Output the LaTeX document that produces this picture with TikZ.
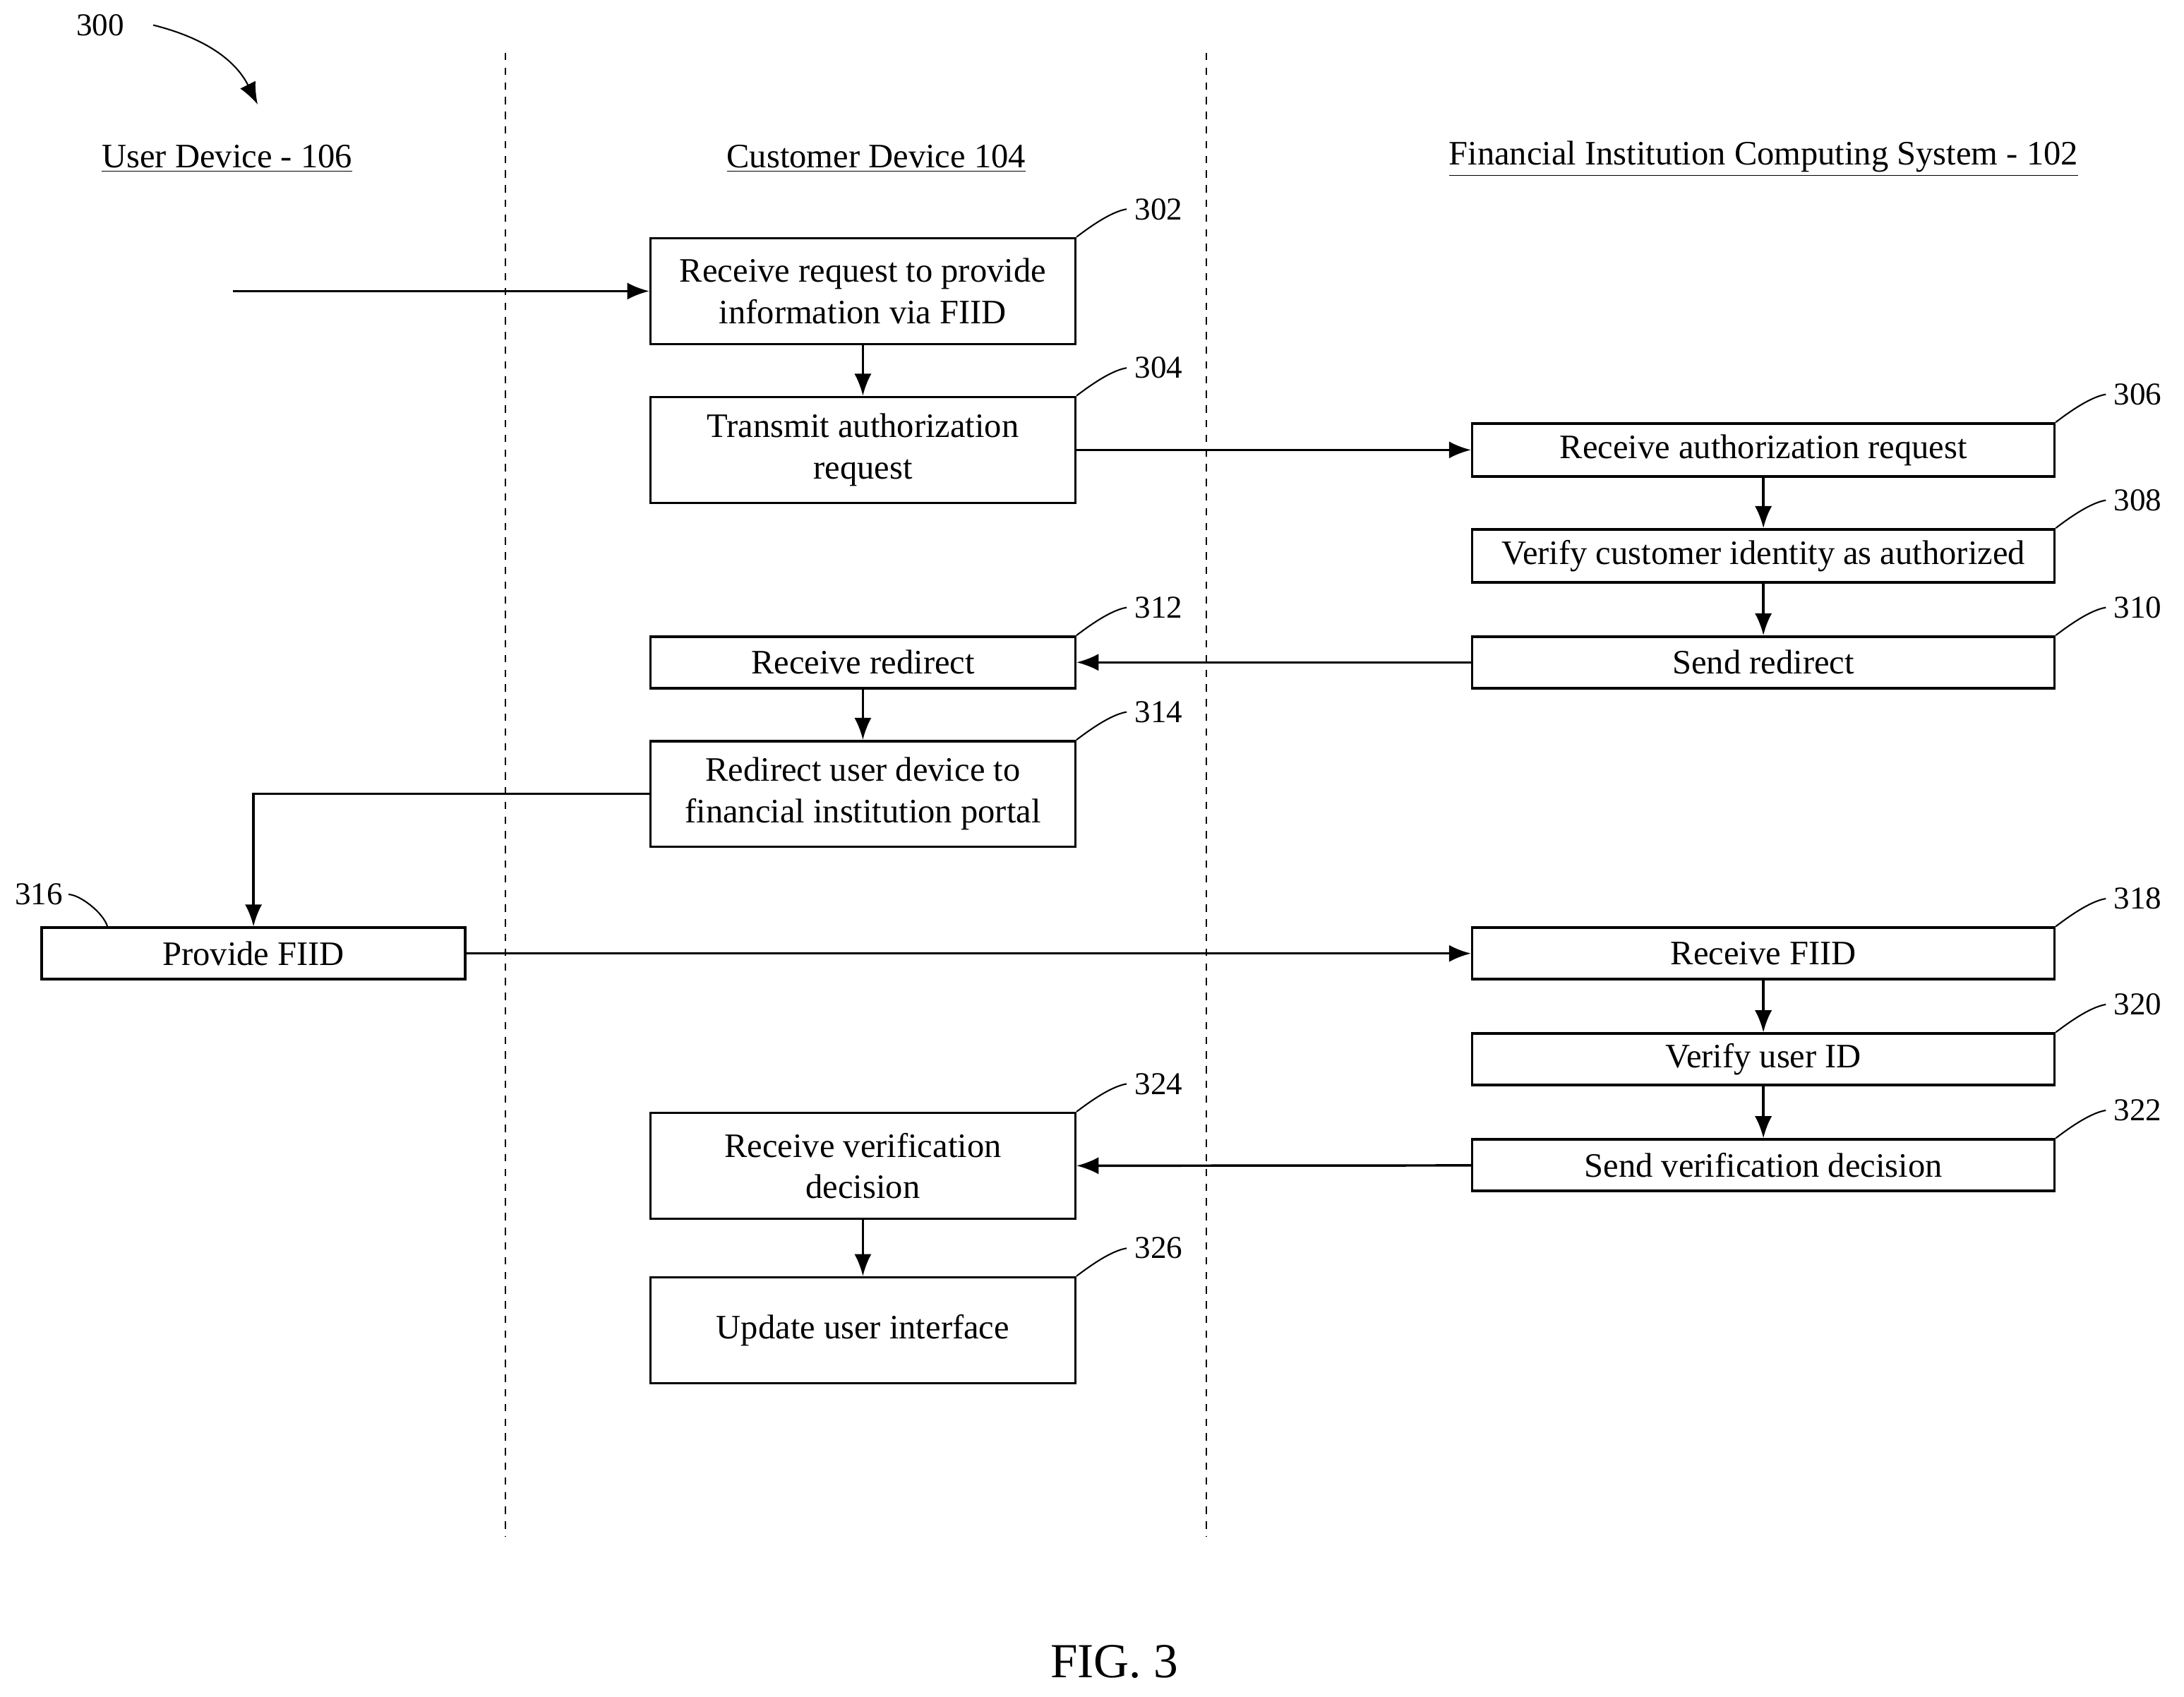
\documentclass[tikz,border=0pt]{standalone}
\usepackage{fontspec}
\setmainfont{Liberation Serif}
\usetikzlibrary{arrows.meta}

\begin{document}
\begin{tikzpicture}[x=0.02cm,y=-0.02cm,line width=1pt,
    box/.style={draw,align=center,inner sep=0pt,font=\fontsize{14}{17}\selectfont},
    cbox/.style={box,minimum width=305*0.02cm},
    fbox/.style={box,minimum width=418*0.02cm},
    head/.style={font=\fontsize{14}{17}\selectfont},
    num/.style={font=\fontsize{13}{15}\selectfont},
    arr/.style={-{Latex[length=9pt,width=7pt]}}]

  \useasboundingbox (0,0) rectangle (1568,1218);

  % lanes
  \draw[dashed,line width=0.6pt] (363,38) -- (363,1103);
  \draw[dashed,line width=0.6pt] (866,38) -- (866,1103);

  \node[head] (hu) at (163,114) {\underline{User Device - 106}};
  \node[head] (hc) at (629,114) {\underline{Customer Device 104}};
  \node[head] (hf) at (1266,114) {\underline{Financial Institution Computing System - 102}};

  % customer device
  \node[cbox,minimum height=76*0.02cm] (b302) at (619.5,209) {Receive request to provide\\information via FIID};
  \node[cbox,minimum height=76*0.02cm] (b304) at (619.5,323) {Transmit authorization\\request};
  \node[cbox,minimum height=37*0.02cm] (b312) at (619.5,475.5) {Receive redirect};
  \node[cbox,minimum height=76*0.02cm] (b314) at (619.5,570) {Redirect user device to\\financial institution portal};
  \node[cbox,minimum height=76*0.02cm] (b324) at (619.5,837) {Receive verification\\decision};
  \node[cbox,minimum height=76*0.02cm] (b326) at (619.5,955) {Update user interface};

  % financial institution
  \node[fbox,minimum height=38*0.02cm] (b306) at (1266,323) {Receive authorization request};
  \node[fbox,minimum height=38*0.02cm] (b308) at (1266,399) {Verify customer identity as authorized};
  \node[fbox,minimum height=37*0.02cm] (b310) at (1266,475.5) {Send redirect};
  \node[fbox,minimum height=37*0.02cm] (b318) at (1266,684.5) {Receive FIID};
  \node[fbox,minimum height=37*0.02cm] (b320) at (1266,760.5) {Verify user ID};
  \node[fbox,minimum height=37*0.02cm] (b322) at (1266,836.5) {Send verification decision};

  % user device
  \node[box,minimum width=304*0.02cm,minimum height=37*0.02cm] (b316) at (182,684.5) {Provide FIID};

  % connectors
  \coordinate (in) at (167,209);
  \draw[arr] (in) -- (b302);
  \draw[arr] (b302) -- (b304);
  \draw[arr] (b304) -- (b306);
  \draw[arr] (b306) -- (b308);
  \draw[arr] (b308) -- (b310);
  \draw[arr] (b310) -- (b312);
  \draw[arr] (b312) -- (b314);
  \draw[arr] (b314.west) -| (b316.north);
  \draw[arr] (b316) -- (b318);
  \draw[arr] (b318) -- (b320);
  \draw[arr] (b320) -- (b322);
  \draw[arr] (b322) -- (b324);
  \draw[arr] (b324) -- (b326);

  % reference numerals
  \foreach \b/\n in {b302/302,b304/304,b312/312,b314/314,b324/324,b326/326,
                     b306/306,b308/308,b310/310,b318/318,b320/320,b322/322} {
    \draw[line width=0.6pt] (\b.north east) .. controls +(8,-6) and +(-12,2) .. ++(36,-20)
      node[num,anchor=west,inner sep=3pt] (l\n) {\n};
  }
  \draw[line width=0.6pt] (b316.north west) ++(48,0) .. controls +(-3,-10) and +(8,0) .. ++(-28,-23)
    node[num,anchor=east,inner sep=2pt] (l316) {316};

  \node[num] (l300) at (72,18) {300};
  \draw[arr,line width=0.6pt] (110,18) .. controls (150,28) and (170,45) .. (185,75);

  \node[font=\fontsize{20}{24}\selectfont] (fig) at (800,1193) {FIG. 3};
\end{tikzpicture}
\end{document}
